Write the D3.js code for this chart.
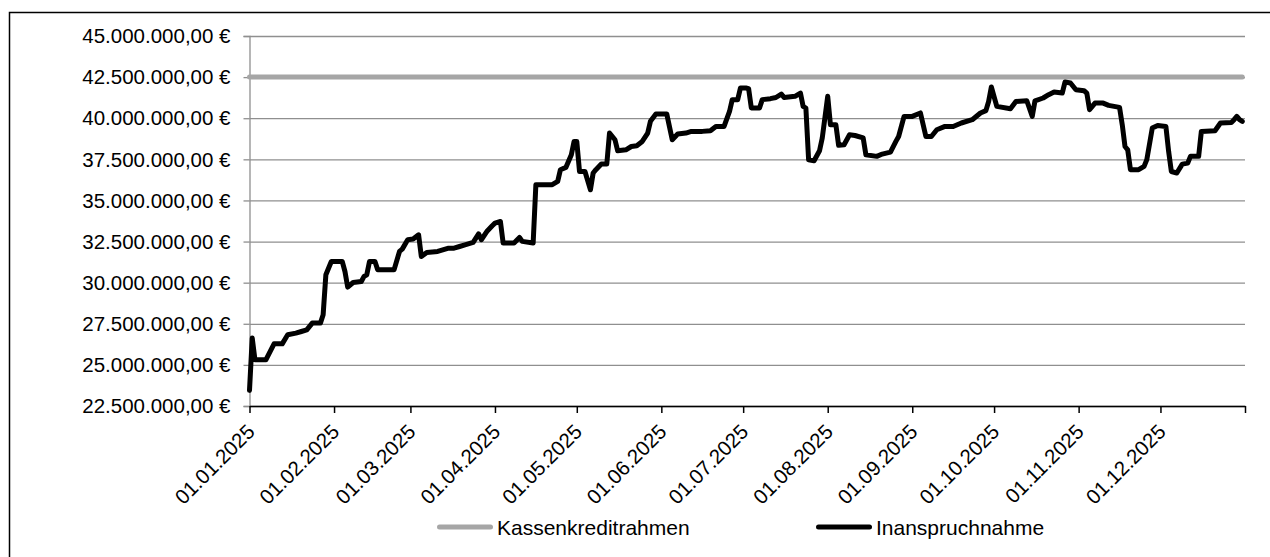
<!DOCTYPE html>
<html>
<head>
<meta charset="utf-8">
<script src="https://cdnjs.cloudflare.com/ajax/libs/d3/7.8.5/d3.min.js"></script>
<style>
  body { margin: 0; background: #fff; }
  svg { display: block; font-family: "Liberation Sans", Arial, sans-serif; }
  .axis text { font-size: 20.5px; fill: #000; }
  .legend text { font-size: 21px; fill: #000; }
</style>
</head>
<body>
<div id="chart"></div>
<script>
// Tagesstand Inanspruchnahme (Stützpunkte), Werte in Mio. Euro
var datum = [
  "01.01.2025","02.01.2025","03.01.2025","07.01.2025","10.01.2025","13.01.2025","15.01.2025","18.01.2025",
  "20.01.2025","22.01.2025","24.01.2025","27.01.2025","28.01.2025","29.01.2025","31.01.2025","04.02.2025",
  "05.02.2025","06.02.2025","08.02.2025","11.02.2025","12.02.2025","13.02.2025","14.02.2025","16.02.2025",
  "17.02.2025","23.02.2025","25.02.2025","26.02.2025","28.02.2025","02.03.2025","04.03.2025","05.03.2025",
  "07.03.2025","11.03.2025","15.03.2025","17.03.2025","19.03.2025","21.03.2025","24.03.2025","26.03.2025",
  "27.03.2025","29.03.2025","31.03.2025","01.04.2025","03.04.2025","04.04.2025","08.04.2025","10.04.2025",
  "11.04.2025","15.04.2025","16.04.2025","22.04.2025","24.04.2025","25.04.2025","27.04.2025","29.04.2025",
  "30.04.2025","01.05.2025","02.05.2025","04.05.2025","06.05.2025","07.05.2025","08.05.2025","10.05.2025",
  "12.05.2025","13.05.2025","15.05.2025","16.05.2025","19.05.2025","21.05.2025","23.05.2025","25.05.2025",
  "27.05.2025","28.05.2025","30.05.2025","03.06.2025","05.06.2025","07.06.2025","10.06.2025","12.06.2025",
  "16.06.2025","19.06.2025","21.06.2025","24.06.2025","26.06.2025","27.06.2025","29.06.2025","30.06.2025",
  "02.07.2025","03.07.2025","04.07.2025","07.07.2025","08.07.2025","11.07.2025","13.07.2025","15.07.2025",
  "16.07.2025","20.07.2025","22.07.2025","23.07.2025","24.07.2025","25.07.2025","27.07.2025","29.07.2025",
  "30.07.2025","01.08.2025","02.08.2025","04.08.2025","05.08.2025","07.08.2025","09.08.2025","11.08.2025",
  "14.08.2025","15.08.2025","19.08.2025","21.08.2025","24.08.2025","26.08.2025","27.08.2025","29.08.2025",
  "01.09.2025","04.09.2025","06.09.2025","08.09.2025","10.09.2025","13.09.2025","16.09.2025","19.09.2025",
  "23.09.2025","26.09.2025","28.09.2025","29.09.2025","30.09.2025","02.10.2025","07.10.2025","09.10.2025",
  "13.10.2025","15.10.2025","16.10.2025","19.10.2025","21.10.2025","23.10.2025","26.10.2025","27.10.2025",
  "29.10.2025","31.10.2025","03.11.2025","04.11.2025","05.11.2025","07.11.2025","10.11.2025","12.11.2025",
  "16.11.2025","17.11.2025","18.11.2025","19.11.2025","20.11.2025","23.11.2025","25.11.2025","26.11.2025",
  "28.11.2025","30.11.2025","03.12.2025","04.12.2025","05.12.2025","07.12.2025","09.12.2025","11.12.2025",
  "12.12.2025","15.12.2025","16.12.2025","21.12.2025","23.12.2025","27.12.2025","28.12.2025","29.12.2025",
  "30.12.2025","31.12.2025"
];

var inanspruchnahmeMio = [
  23.45, 26.63, 25.31, 25.31, 26.28, 26.28, 26.83, 26.93,
  27.03, 27.13, 27.54, 27.54, 28.05, 30.48, 31.29, 31.29,
  30.68, 29.73, 30.01, 30.07, 30.38, 30.48, 31.29, 31.29,
  30.78, 30.78, 31.90, 32.04, 32.61, 32.65, 32.91, 31.59,
  31.84, 31.90, 32.10, 32.10, 32.20, 32.30, 32.45, 32.97,
  32.61, 33.11, 33.46, 33.62, 33.72, 32.41, 32.41, 32.75,
  32.51, 32.41, 35.96, 35.96, 36.16, 36.87, 37.01, 37.78,
  38.59, 38.59, 36.76, 36.76, 35.65, 36.67, 36.87, 37.21,
  37.21, 39.10, 38.69, 38.02, 38.08, 38.28, 38.33, 38.59,
  39.10, 39.81, 40.25, 40.25, 38.69, 39.04, 39.10, 39.20,
  39.20, 39.24, 39.50, 39.50, 40.41, 41.13, 41.13, 41.84,
  41.84, 41.80, 40.62, 40.62, 41.13, 41.19, 41.26, 41.47,
  41.26, 41.33, 41.53, 40.72, 40.62, 37.47, 37.41, 38.02,
  38.80, 41.33, 39.60, 39.60, 38.35, 38.39, 38.99, 38.95,
  38.80, 37.78, 37.68, 37.82, 37.94, 38.59, 38.89, 40.11,
  40.11, 40.32, 38.89, 38.89, 39.30, 39.50, 39.50, 39.71,
  39.91, 40.32, 40.46, 41.02, 41.90, 40.72, 40.58, 41.02,
  41.06, 40.11, 41.06, 41.23, 41.43, 41.59, 41.53, 42.20,
  42.14, 41.73, 41.67, 41.53, 40.52, 40.92, 40.92, 40.78,
  40.66, 39.60, 38.28, 38.08, 36.87, 36.87, 37.07, 37.48,
  39.40, 39.56, 39.50, 37.98, 36.76, 36.67, 37.21, 37.27,
  37.68, 37.68, 39.20, 39.24, 39.71, 39.74, 39.91, 40.11,
  39.91, 39.81
];

var kassenkreditrahmen = 42500000;

var yTickWerte = [22500000, 25000000, 27500000, 30000000, 32500000, 35000000,
                  37500000, 40000000, 42500000, 45000000];

var monatsTicks = ["01.01.2025","01.02.2025","01.03.2025","01.04.2025","01.05.2025","01.06.2025",
                   "01.07.2025","01.08.2025","01.09.2025","01.10.2025","01.11.2025","01.12.2025",
                   "01.01.2026"];

var legendeNamen = ["Kassenkreditrahmen", "Inanspruchnahme"];

(function(){

  var parse = d3.utcParse("%d.%m.%Y");
  var fmtDatum = d3.utcFormat("%d.%m.%Y");
  var deDE = d3.formatLocale({decimal: ",", thousands: ".", grouping: [3], currency: ["", " €"]});
  var fmtEuro = deDE.format(",.2f");

  var rows = datum.map(function(d, i) {
    return {date: parse(d), value: inanspruchnahmeMio[i] * 1e6};
  });
  var rahmenRows = [
    {date: parse(datum[0]), value: kassenkreditrahmen},
    {date: parse(datum[datum.length - 1]), value: kassenkreditrahmen}
  ];

  // Chart dimensions.
  var margin = {top: 36, left: 249.5},
      width = 995.5,
      height = 370;

  var xScale = d3.scaleUtc()
      .domain([parse("01.01.2025"), parse("01.01.2026")])
      .range([0, width]);
  var yScale = d3.scaleLinear()
      .domain([22500000, 45000000])
      .range([height, 0]);

  var svg = d3.select("#chart").append("svg")
      .attr("width", 1270)
      .attr("height", 557);

  svg.append("rect")
      .attr("width", 1270).attr("height", 557)
      .attr("fill", "#fff");

  // Outer chart border (runs out of the picture right and bottom)
  svg.append("rect")
      .attr("x", 9.5).attr("y", 12.5)
      .attr("width", 1400).attr("height", 700)
      .attr("fill", "none")
      .attr("stroke", "#000")
      .attr("stroke-width", 1.5);

  var g = svg.append("g")
      .attr("transform", "translate(" + margin.left + "," + margin.top + ")");

  // Gridlines
  g.append("g")
      .attr("class", "grid")
      .call(d3.axisLeft(yScale).tickValues(yTickWerte).tickSize(-width).tickFormat(""))
      .call(function(s) {
        s.select(".domain").remove();
        s.selectAll("line").attr("stroke", "#8f8f8f").attr("stroke-width", 1.3);
      });

  // y axis
  g.append("g")
      .attr("class", "y axis")
      .call(d3.axisLeft(yScale).tickValues(yTickWerte).tickSize(6).tickPadding(13)
        .tickFormat(function(d) { return fmtEuro(d) + " €"; }))
      .call(function(s) {
        s.select(".domain").attr("stroke", "#8f8f8f").attr("stroke-width", 1.3);
        s.selectAll(".tick line").attr("stroke", "#8f8f8f").attr("stroke-width", 1.3);
        s.selectAll("text").attr("dy", "0.33em");
      });

  // x axis
  g.append("g")
      .attr("class", "x axis")
      .attr("transform", "translate(0," + height + ")")
      .call(d3.axisBottom(xScale).tickValues(monatsTicks.map(parse)).tickSize(7).tickSizeOuter(0)
        .tickFormat(function(d) { return d.getUTCFullYear() === 2025 ? fmtDatum(d) : ""; }))
      .call(function(s) {
        s.select(".domain").attr("stroke", "#000").attr("stroke-width", 1.5);
        s.selectAll(".tick line").attr("stroke", "#000").attr("stroke-width", 1.5);
        s.selectAll("text")
          .attr("x", 0).attr("y", 0).attr("dy", null)
          .attr("text-anchor", "end")
          .attr("transform", "translate(6,27) rotate(-45)");
      });

  var line = d3.line()
      .x(function(d) { return xScale(d.date); })
      .y(function(d) { return yScale(d.value); });

  // Kassenkreditrahmen
  g.append("path")
      .datum(rahmenRows)
      .attr("fill", "none")
      .attr("stroke", "#a6a6a6")
      .attr("stroke-width", 5)
      .attr("stroke-linecap", "round")
      .attr("d", line);

  // Inanspruchnahme
  g.append("path")
      .datum(rows)
      .attr("fill", "none")
      .attr("stroke", "#000")
      .attr("stroke-width", 5)
      .attr("stroke-linejoin", "round")
      .attr("stroke-linecap", "round")
      .attr("d", line);

  // Legend
  var legendColors = ["#a6a6a6", "#000"];
  var legendX = [437, 816];
  var legend = svg.append("g").attr("class", "legend")
    .selectAll("g")
      .data(legendeNamen)
    .enter().append("g")
      .attr("transform", function(d, i) { return "translate(" + legendX[i] + ",527)"; });

  legend.append("line")
      .attr("x1", 2.5).attr("x2", 53.5)
      .attr("stroke", function(d, i) { return legendColors[i]; })
      .attr("stroke-width", 5)
      .attr("stroke-linecap", "round");

  legend.append("text")
      .attr("x", 60)
      .attr("y", 7.5)
      .text(function(d) { return d; });

})();
</script>
</body>
</html>
